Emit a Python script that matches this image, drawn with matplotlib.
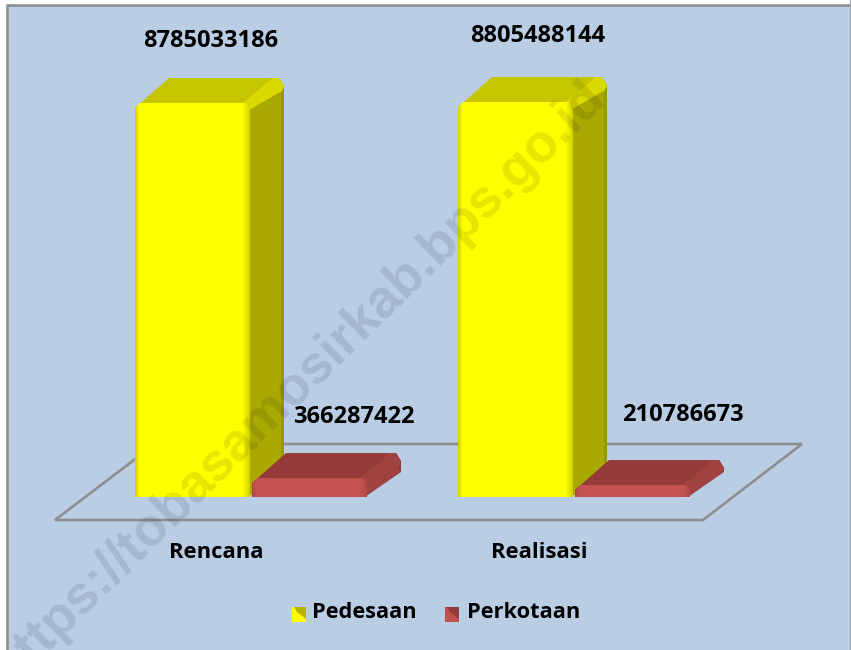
import matplotlib
matplotlib.use('Agg')
import matplotlib.pyplot as plt
from matplotlib.colors import to_rgb
from matplotlib.patches import Polygon, Rectangle

categories = ['Rencana', 'Realisasi']
pedesaan = [8785033186, 8805488144]
perkotaan = [366287422, 210786673]
series_names = ['Pedesaan', 'Perkotaan']

W, H = 851, 650
base_px = 497
# pixels per value unit
scale = 394 / pedesaan[0]

fig = plt.figure(figsize=(W / 100, H / 100), dpi=100)
fig.patch.set_facecolor('white')
ax = fig.add_axes([0, 0, 1, 1])
ax.set_xlim(0, W)
ax.set_ylim((base_px - H) / scale, base_px / scale)
ax.axis('off')

font = ['Open Sans', 'DejaVu Sans']


def py(px):
    # pixel row to value units
    return (base_px - px) / scale


def mix(a, b, t):
    a, b = to_rgb(a), to_rgb(b)
    return tuple(a[k] + (b[k] - a[k]) * t for k in range(3))


def box(x0, x1, val, r, front, edge, top_c, bevel, side, side_d):
    # one extruded bar with soft corners, r is the corner size in px
    dx, dy = 34, 25 / scale
    u = 1 / scale
    x2 = x1 + dx
    t2 = val + dy
    # side face, darker strip at the far edge
    ax.add_patch(Polygon([(x1 - 2, 0), (x2, dy), (x2, t2 - r * 1.6 * u), (x2 - r, t2), (x1 - 2, val)],
                         fc=side, ec='none', zorder=3))
    ax.add_patch(Polygon([(x2 - 3, dy + 3 * u), (x2, dy + 1 * u), (x2, t2 - r * 1.6 * u), (x2 - 3, t2 - r * 1.2 * u)],
                         fc=side_d, ec='none', zorder=3))
    # top face and the light bevel that runs to the back corner
    ax.add_patch(Polygon([(x0, val - r * u), (x0 + dx, t2), (x2 - r, t2), (x2, t2 - r * 1.6 * u), (x1, val - r * u)],
                         fc=top_c, ec='none', zorder=3))
    ax.add_patch(Polygon([(x1 - r * 1.5, val), (x2 - r * 2.2, t2), (x2 - r, t2), (x2, t2 - r * 1.6 * u),
                          (x2 - r * .4, t2 - r * 2.6 * u), (x1 + 1, val - r * 1.2 * u)],
                         fc=bevel, ec='none', zorder=3))
    # front face, strips give the soft left and right edges
    clip = Polygon([(x0, 0), (x0, val - r * u), (x0 + r, val), (x1 - r, val), (x1, val - r * u), (x1, 0)],
                   transform=ax.transData)
    bars = list(ax.bar(x0, val, width=x1 - x0, align='edge', color=front, zorder=4))
    for k in range(4):
        bars += ax.bar(x0 + k, val, width=1.2, align='edge', color=mix(edge, front, k / 4), zorder=4)
    for k in range(7):
        bars += ax.bar(x1 - 1 - k, val, width=1.2, align='edge', color=mix(edge, front, k / 7), zorder=4)
    for b in bars:
        b.set_clip_path(clip)


# background and frame
ax.add_patch(Rectangle((6.5, py(H + 5)), W + 10, py(5.5) - py(H + 5), fc='#b9cde5', ec='#8c8c8c', lw=1.8, zorder=0))
ax.add_patch(Rectangle((849.5, py(H)), 3, py(0) - py(H), fc='#9aa6b4', ec='none', zorder=0.5))

# floor
floor = Polygon([(55, py(520)), (155, py(444)), (802, py(444)), (703, py(520))], closed=True,
                fc='none', ec='#8e8e8e', lw=1.9, zorder=1)
ax.add_patch(floor)

width = 115
label_y = [[41, 36], [417, 415]]
label_x = [[211, 538], [354, 683]]
extra = 2.5 / scale
for i, cat in enumerate(categories):
    x_y = 135 + 323 * i
    x_r = x_y + width + 2
    box(x_y, x_y + width, pedesaan[i], 5, '#ffff00', '#d2d200', '#c6c600', '#d9d900', '#a9a900', '#979700')
    box(x_r, x_r + width, perkotaan[i] + extra, 5, '#c4524f', '#b04a47', '#953c3a', '#a04240', '#a04240', '#8a3735')
    ax.text(label_x[0][i], py(label_y[0][i]), f'{pedesaan[i]}', ha='center', va='center',
            fontsize=17, fontweight='bold', family=font, color='black', zorder=6)
    ax.text(label_x[1][i], py(label_y[1][i]), f'{perkotaan[i]}', ha='center', va='center',
            fontsize=17, fontweight='bold', family=font, color='black', zorder=6)
    ax.text(x_y + 81, py(553), cat, ha='center', va='center',
            fontsize=15.8, fontweight='bold', family=font, color='black', zorder=6)

# legend
leg_x = [292, 445]
leg_c = [('#ffff00', '#b5b500'), ('#c0504d', '#8f3b39')]
for x, name, (c, d) in zip(leg_x, series_names, leg_c):
    ax.add_patch(Rectangle((x, py(622)), 14, 15 / scale, fc=c, ec='none', zorder=5))
    ax.add_patch(Polygon([(x + 2, py(607)), (x + 14, py(607)), (x + 14, py(619)), (x + 9, py(615)), (x + 5, py(612))],
                         fc=d, ec='none', zorder=5))
    ax.text(x + 20 if x < 400 else x + 22, py(613), name, ha='left', va='center', fontsize=15.7, fontweight='bold',
            family=font, color='black', zorder=6)

# watermark
ax.text(298, py(383), 'https://tobasamosirkab.bps.go.id', rotation=44.5, rotation_mode='anchor',
        ha='center', va='center', fontsize=38.3, fontweight='bold', family=['Liberation Sans', 'DejaVu Sans'],
        color='black', alpha=0.1, zorder=10)

fig.savefig('out.png', dpi=100)
